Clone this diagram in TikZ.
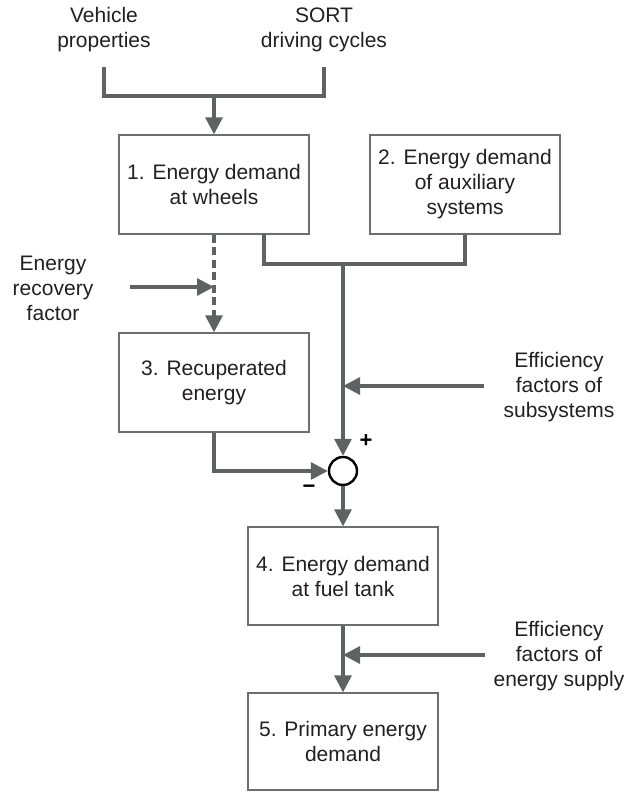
\documentclass[tikz,border=0pt]{standalone}
\usepackage{fontspec}
\setmainfont{Liberation Sans}
\usetikzlibrary{arrows.meta}
\definecolor{linegray}{HTML}{606163}
\definecolor{boxgray}{HTML}{6D6E70}
\definecolor{txt}{HTML}{231F20}
\begin{document}
\begin{tikzpicture}[x=1pt,y=-1pt,
  every node/.style={font=\fontsize{21}{25}\selectfont, text=txt, align=center, inner sep=0pt},
  blk/.style={draw=boxgray, line width=1.3pt, minimum width=190pt, minimum height=99pt},
  conn/.style={draw=linegray, line width=3.2pt},
  arr/.style={conn, -{Triangle[length=17pt,width=17pt]}},
  dashconn/.style={arr, dash pattern=on 8pt off 4.5pt},
  sumnode/.style={circle, draw=black, line width=2.4pt, minimum size=28pt, fill=white},
  sign/.style={font=\fontsize{22}{22}\selectfont\bfseries, text=black}]
\useasboundingbox (0,0) rectangle (636,792);

% inputs at top
\node (veh) at (104,30) {Vehicle\\properties};
\node (sort) at (324,30) {SORT\\driving cycles};
\coordinate (vehend) at (104,67);
\coordinate (sortend) at (324,67);
\coordinate (vehc) at (104,96);
\coordinate (sortc) at (324,96);
\coordinate (topmid) at (214,96);

% boxes
\node[blk] (b1) at (214,184.5) {1. Energy demand\\at wheels};
\node[blk] (b2) at (465,184.5) {2. Energy demand\\of auxiliary\\systems};
\node[blk] (b3) at (214,382.5) {3. Recuperated\\energy};
\node[blk, minimum height=98pt] (b4) at (343,576) {4. Energy demand\\at fuel tank};
\node[blk, minimum height=97pt] (b5) at (343,741.5) {5. Primary energy\\demand};

% sum junction
\node[sumnode] (sum) at (343,471) {};
\node[sign] (plus) at (366,441) {+};
\node[sign] (minus) at (309,489) {\textminus};

% side labels
\node (erf) at (53,288) {Energy\\recovery\\factor};
\node (efs) at (559,387) {Efficiency\\factors of\\subsystems};
\node (efe) at (559,656) {Efficiency\\factors of\\energy supply};

% helper coordinates
\coordinate (erfstart) at (130,287);
\coordinate (erfend) at (214,287);
\coordinate (b1out) at (264,234);
\coordinate (b1down) at (264,264);
\coordinate (b2down) at (465,264);
\coordinate (merge) at (343,264);
\coordinate (efsstart) at (484,386);
\coordinate (efsend) at (343,386);
\coordinate (b3turn) at (214,471);
\coordinate (efestart) at (485,655);
\coordinate (efeend) at (343,655);

% connectors
\draw[conn] (vehend) -- (vehc) -- (sortc) -- (sortend);
\draw[arr] (topmid) -- (b1.north);
\draw[dashconn] (b1.south) -- (b3.north);
\draw[arr] (erfstart) -- (erfend);
\draw[conn] (b1out) -- (b1down) -- (b2down) -- (b2.south);
\draw[arr] (merge) -- (sum.north);
\draw[arr] (efsstart) -- (efsend);
\draw[arr] (b3.south) -- (b3turn) -- (sum.west);
\draw[arr] (sum.south) -- (b4.north);
\draw[arr] (b4.south) -- (b5.north);
\draw[arr] (efestart) -- (efeend);
\end{tikzpicture}
\end{document}
